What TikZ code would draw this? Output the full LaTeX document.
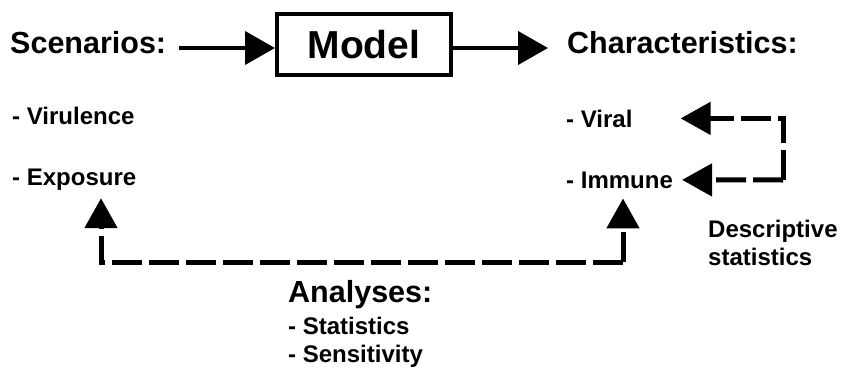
\documentclass[tikz,border=0pt]{standalone}
\usepackage{fontspec}
\setmainfont{Liberation Sans}
\usetikzlibrary{arrows.meta, positioning}

\begin{document}
\begin{tikzpicture}[x=1pt, y=-1pt,
    head/.style={font=\fontsize{30.5}{35}\selectfont\bfseries, inner sep=0pt, anchor=base west},
    item/.style={font=\fontsize{24}{28}\selectfont\bfseries, inner sep=0pt, anchor=base west, align=left},
    flow/.style={line width=4pt, -{Triangle[length=30pt, width=33pt]}},
    dashflow/.style={line width=5pt, dash pattern=on 30pt off 7pt,
                     -{Triangle[length=30pt, width=32pt]}}]
  \useasboundingbox (0,0) rectangle (842,369);

  % Top row
  \node[head] (scen) at (10,53) {Scenarios:};
  \node[draw, line width=4pt, minimum width=174pt, minimum height=61pt,
        font=\fontsize{39}{44}\selectfont\bfseries] (model) at (364,44.5) {Model};
  \node[head] (charac) at (567,53) {Characteristics:};

  \coordinate (inA) at ([shift={(13pt,5pt)}]scen.base east);
  \coordinate (outA) at ([shift={(-19pt,5pt)}]charac.base west);
  \draw[flow] (inA) -- (inA -| model.west);
  \draw[flow] (model.east |- outA) -- (outA);

  % Scenario items
  \node[item] (viru) at (12,124) {- Virulence};
  \node[item] (expo) at (12,185) {- Exposure};

  % Characteristic items
  \node[item] (viral) at (566,127) {- Viral};
  \node[item] (immune) at (566,188) {- Immune};

  % Descriptive statistics loop (base = last line)
  \node[item] (desc) at (708,265) {Descriptive\\statistics};
  \coordinate (loop) at (783,180);
  \draw[dashflow] (loop) -- ([xshift=9pt]immune.east);
  \draw[dashflow] (loop) |- ([xshift=48pt]viral.east);

  % Analyses
  \node[head] (anal) at (288,302) {Analyses:};
  \node[item] (analist) at (288,362) {- Statistics\\- Sensitivity};

  \coordinate (anL) at (101,262);
  \coordinate (anR) at (623,262);
  \draw[dashflow] (anR) -- (anL) -- ([yshift=-8pt]anL |- expo.south);
  \draw[dashflow] (anR) -- ([yshift=-10pt]anR |- immune.south);
\end{tikzpicture}
\end{document}
